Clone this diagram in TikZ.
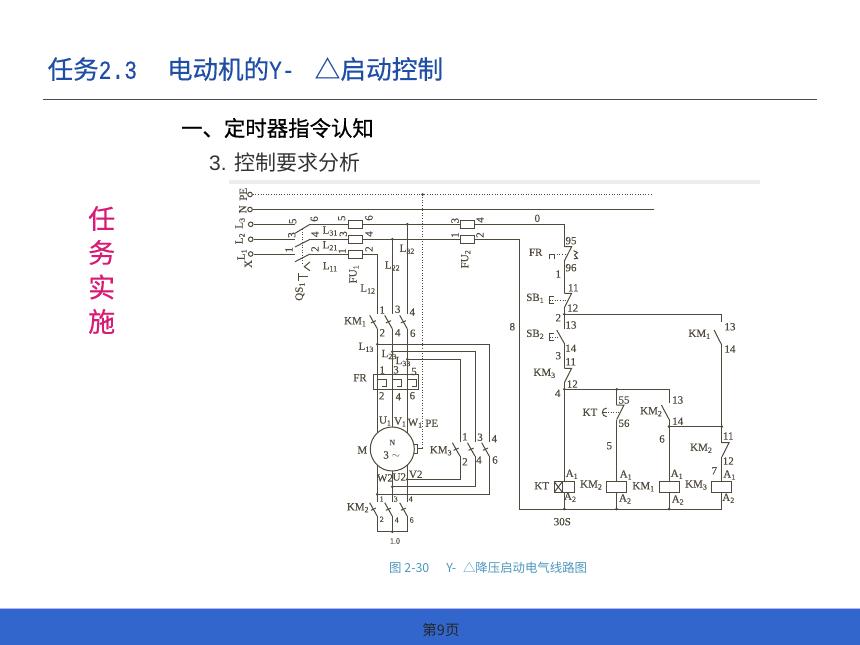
\documentclass[tikz,border=0pt]{standalone}
\usepackage{fontspec}
\setmainfont{Liberation Serif}
\newfontfamily\cjk{Noto Sans CJK SC}
\newfontfamily\cjkheavy[FakeBold=0.6]{Noto Sans CJK SC}
\newfontfamily\cjktitle[FakeBold=0.35]{Noto Sans CJK SC}
\newfontfamily\titlemono[FakeStretch=0.82,FakeBold=0.35]{Liberation Mono}
\newfontfamily\arial{Liberation Sans}
\newfontfamily\lblfont[FakeBold=0.2]{Liberation Serif}
\usetikzlibrary{
  positioning,
  calc
}
\definecolor{wire}{HTML}{4F4A3C}
\definecolor{titleblue}{HTML}{1F4EA6}
\definecolor{taskpink}{HTML}{D81B74}
\definecolor{barblue}{HTML}{3366CC}
\definecolor{capblue}{HTML}{4C97BC}
\tikzstyle{line}=[wire, line width=1pt]
\tikzstyle{auxline}=[wire, line width=0.8pt, dash pattern=on 1pt off 1.6pt]
\tikzstyle{lbl}=[wire, inner sep=0pt, font=\fontsize{11}{12}\selectfont\lblfont]
\tikzstyle{lblsmall}=[wire, inner sep=0pt, font=\fontsize{8}{9}\selectfont\lblfont]
\tikzstyle{lblrot}=[lbl, rotate=90]
\tikzstyle{term}=[line, circle, draw, fill=white, inner sep=0pt, minimum size=4.6pt]
\tikzstyle{fuse}=[line, draw, fill=white, inner sep=0pt, minimum width=14.5pt, minimum height=7.4pt]
\tikzstyle{coil}=[line, draw, fill=white, inner sep=0pt, minimum width=20pt, minimum height=10.6pt]
% 下付き
\newcommand{\subn}[1]{\raisebox{-2pt}{\fontsize{8}{9}\selectfont #1}}
% 常开触点と常闭触点
\newcommand{\noblade}[2]{%
    \draw[line] ({#1-7.6},{#2+1}) -- (#1,{#2+14.5});
    \draw[line] ({#1-6.4},{#2+8.6}) -- ({#1-1.4},{#2+6.4});
}
\newcommand{\ncblade}[2]{%
    \draw[line] (#1,#2) -- ({#1+7.3},#2) -- (#1,{#2+14.5});
}

\begin{document}
\begin{tikzpicture}[x=1pt,y=-1pt]
    \useasboundingbox (0,0) rectangle (860,645);
    \def\xa{377.3}
    \def\xb{392.3}
    \def\xc{407.3}
    \def\xd{564.3}
    \def\xe{616.7}
    \def\xf{669}
    \def\xg{721.7}

    % 标题
    \node[anchor=west, inner sep=0pt, titleblue, font=\fontsize{25.5}{27}\selectfont] (title) at (47.5,69)
        {\cjktitle 任务\titlemono\fontsize{26}{27}\selectfont 2.3\cjktitle\hspace{30pt}\fontsize{25.5}{27}\selectfont 电动机的\titlemono\fontsize{26}{27}\selectfont Y-\cjktitle\hspace{20pt}\fontsize{25.7}{27}\selectfont △启动控制};
    \draw[black!70, line width=1pt] (43,99) coordinate (ruleL) -- (817,99) coordinate (ruleR);
    \node[anchor=west, inner sep=0pt, black, font=\fontsize{21.4}{24}\selectfont\cjkheavy] (sec) at (181,128) {一、定时器指令认知};
    \node[anchor=west, inner sep=0pt, black!80, font=\fontsize{21}{24}\selectfont] (sub) at (209,163) {\arial 3. \cjk 控制要求分析};

    % 任务实施
    \foreach \yy/\ch [count=\i] in {218.5/任,252.5/务,287/实,321.5/施}
        \node[taskpink, inner sep=0pt, font=\fontsize{27}{27}\selectfont\cjktitle] (task\i) at (101.7,\yy) {\ch};

    % 图の上の帯
    \fill[black!7] (229,180) rectangle (760,183.5);

    % 电源端子
    \node[term] (TPE) at (250,194.5) {};
    \node[term] (TN) at (250,209.5) {};
    \node[term] (TC) at (250.7,224.3) {};
    \node[term] (TB) at (250.7,239.3) {};
    \node[term] (TA) at (250.7,254) {};

    % 开关の端点
    \foreach \nm/\yy in {A/254,B/239.3,C/224.3} {
        \coordinate (Ql\nm) at (295,\yy);
        \coordinate (Qr\nm) at (310,\yy);
    }

    % 电源线
    \draw[auxline] (TPE) -- (652,194.5) coordinate (PEend);
    \draw[line] (TN) -- (654,209.5) coordinate (Nend);
    \draw[line] (TA) -- (QlA);
    \draw[line] (TB) -- (QlB);
    \draw[line] (TC) -- (QlC);
    \coordinate (dL2) at (\xb,239.3);
    \coordinate (dL3) at (\xc,224.3);
    \coordinate (topD) at (\xd,224.3);
    \coordinate (cornerB) at (519,239.3);
    \coordinate (cornerBb) at (519,509);
    \coordinate (busEnd) at (\xg,509);
    \draw[line] (QrA) -- (\xa,254) -- (\xa,314.3);
    \draw[line] (QrB) -- (cornerB) -- (cornerBb) -- (busEnd);
    \draw[line] (QrC) -- (topD) -- (\xd,246.7);
    \draw[line] (dL2) -- (\xb,314.3);
    \draw[line] (dL3) -- (\xc,314.3);

    % 隔离开关QS
    \draw[line] (295,261.7) -- (QrA);
    \draw[line] (295,247) -- (QrB);
    \draw[line] (295,233.3) -- (QrC);
    \draw[auxline] (302.7,229) -- (302.7,263);
    \draw[line] (310,262) -- (304.3,266.7) -- (310,270.7);
    \draw[line] (298,276.7) -- (308,276.7);
    \draw[line] (298,273) -- (298,280.5);

    % 熔断器
    \node[fuse] (FUa) at (355.5,254.3) {};
    \node[fuse] (FUb) at (355.5,239.3) {};
    \node[fuse] (FUc) at (355.5,224.3) {};
    \node[fuse] (FUd) at (467.5,224.3) {};
    \node[fuse] (FUe) at (467.5,239.3) {};

    % KM1主触点
    \foreach \xx in {\xa,\xb,\xc}
        \noblade{\xx}{314.3};

    % 主回路
    \coordinate (dL13) at (\xa,344.3);
    \coordinate (dL23) at (\xb,351.7);
    \coordinate (dL33) at (\xc,359.3);
    \coordinate (dW2) at (\xa,494.3);
    \coordinate (dU2) at (\xb,486.7);
    \coordinate (dV2) at (\xc,479.3);
    \draw[line] (\xa,328.8) -- (\xa,501.7);
    \draw[line] (\xb,328.8) -- (\xb,501.7);
    \draw[line] (\xc,328.8) -- (\xc,501.7);
    \draw[line] (dL13) -- (489.3,344.3) -- (489.3,441.7);
    \draw[line] (dL23) -- (475,351.7) -- (475,441.7);
    \draw[line] (dL33) -- (460,359.3) -- (460,441.7);
    \draw[line] (489.3,456.2) -- (489.3,494.3) -- (dW2);
    \draw[line] (475,456.2) -- (475,486.7) -- (dU2);
    \draw[line] (460,456.2) -- (460,479.3) -- (dV2);
    \foreach \xx in {460,475,489.3}
        \noblade{\xx}{441.7};

    % 热继电器
    \node[line, draw, fill=white, inner sep=0pt, minimum width=45pt, minimum height=14.5pt] (FRbox) at (395.8,382.2) {};
    \foreach \xx in {\xa,\xb,\xc} {
        \draw[line] (\xx,375) -- (\xx,389.5);
        \draw[line] (\xx,379) -- ({\xx+9},379) -- ({\xx+9},386) -- ({\xx+4.5},386);
    }

    % 电动机
    \node[line, circle, draw, fill=white, inner sep=0pt, minimum size=44pt] (motor) at (392.3,449) {};
    \coordinate (dPE) at (422.7,194.5);
    \draw[auxline] (dPE) -- (422.7,448);
    \draw[line] (422.7,448) -- (417.3,448);
    \draw[line] (414,444.5) -- (417.3,444.5) -- (417.3,453) -- (414,453);

    % KM2星形触点
    \foreach \xx in {\xa,\xb,\xc}
        \noblade{\xx}{501.7};
    \coordinate (dL0) at (\xb,531.7);
    \draw[line] (\xa,516.2) -- (\xa,531.7) -- (\xc,531.7) -- (\xc,516.2);
    \draw[line] (\xb,516.2) -- (dL0);

    % 控制回路
    \ncblade{\xd}{246.7}
    \draw[line] (\xd,261.2) -- (\xd,293.3);
    \ncblade{\xd}{293.3}
    \coordinate (dTwo) at (\xd,314.3);
    \draw[line] (\xd,307.8) -- (\xd,329);
    \draw[line] (\xd-7.6,330) -- (\xd,343.3);
    \draw[line] (\xd,343.3) -- (\xd,368.3);
    \ncblade{\xd}{368.3}
    \coordinate (dFour) at (\xd,389.3);
    \draw[line] (\xd,382.8) -- (\xd,509);

    % 自锁
    \draw[line] (dTwo) -- (\xg,314.3) -- (\xg,321.7);
    \draw[line] (\xg-7.6,330) -- (\xg,345);
    \draw[line] (\xg,345) -- (\xg,442.7);
    \ncblade{\xg}{442.7}
    \draw[line] (\xg,457.2) -- (\xg,509);

    % KT和KM2
    \coordinate (dKT) at (\xe,389.3);
    \coordinate (dSix) at (\xf,426.7);
    \coordinate (dEl) at (\xg,426.7);
    \draw[line] (dFour) -- (\xf,389.3) -- (\xf,403.3);
    \draw[line] (dKT) -- (\xe,405);
    \ncblade{\xe}{405}
    \draw[line] (\xe,419.5) -- (\xe,509);
    \draw[line] (\xf-7.6,405) -- (\xf,419.3);
    \draw[line] (\xf,419.3) -- (\xf,509);
    \draw[line] (dSix) -- (dEl);

    % 联动符号
    \draw[line] (549.3,259.3) -- (549.3,254) -- (554,254) -- (554,259.3);
    \draw[auxline] (556.7,254) -- (566,254);
    \draw[line] (573.5,250.7) -- (577.5,252.5) -- (574.5,255) -- (577.5,258.3) -- (574,258.8);
    \draw[line] (553.5,296.7) -- (549.5,296.7) -- (549.5,303.3) -- (553.5,303.3);
    \draw[auxline] (549.5,300) -- (567.5,300);
    \draw[line] (553.5,333.5) -- (549.5,333.5) -- (549.5,340.7) -- (553.5,340.7);
    \draw[auxline] (549.5,337) -- (559,337);
    \draw[line] (606.7,408) .. controls (601,408) and (601,416.7) .. (606.7,416.7);
    \draw[line] (602.5,412.3) -- (606.7,412.3);
    \draw[auxline] (608,412.3) -- (619,412.3);

    % 线圈
    \node[coil] (coilKT) at (\xd,487) {};
    \node[coil] (coilTwo) at (\xe,487) {};
    \node[coil] (coilOne) at (\xf,487) {};
    \node[coil] (coilThree) at (\xg,487) {};
    \draw[line] (554.3,481.7) rectangle (562.3,492.3);
    \draw[line] (554.3,481.7) -- (562.3,492.3);
    \draw[line] (554.3,492.3) -- (562.3,481.7);

    % 节点
    \foreach \pt in {dL2,dL3,dL13,dL23,dL33,dW2,dU2,dV2,dL0,dTwo,dFour,dKT,dSix,dEl,dPE}
        \fill[wire] (\pt) circle (1.5pt);
    \foreach \xx in {\xd,\xe,\xf}
        \fill[wire] (\xx,509) circle (1.5pt);

    % 竖排标注
    \foreach \px/\py/\txt [count=\i] in {
        243.3/194.3/PE, 242.7/209.3/N, 240/223.3/L\subn{3}, 240/238.7/L\subn{2},
        242/254.7/L\subn{1}, 248.3/264/X, 292.7/221.3/5, 291.7/235/3, 289/249.7/1,
        314.3/219/6, 315/234.3/4, 315/249/2, 300/291.7/QS\subn{1},
        341.7/218.3/5, 369/218/6, 343.3/234/3, 369/234/4, 342.3/251/1, 369/249/2,
        354/274.3/FU\subn{1}, 455/220.7/3, 480/220/4, 455/235/1, 480/235/2,
        465.7/259.3/FU\subn{2}}
        \node[lblrot] (rot\i) at (\px,\py) {\txt};

    % 主回路の标注
    \foreach \px/\py/\txt [count=\i] in {
        330/231/L\subn{31}, 330/245.7/L\subn{21}, 330/266.7/L\subn{11},
        367.7/289/L\subn{12}, 392.3/266/L\subn{22}, 407/249.3/L\subn{32},
        355/321.7/KM\subn{1}, 382.3/310/1, 397.7/309.3/3, 412.3/312/4,
        382.3/332.7/2, 397.7/332.7/4, 412.7/333.3/6,
        366/347.3/L\subn{13}, 389/354.5/L\subn{23}, 403/361.5/L\subn{33},
        382.3/370/1, 396/369.8/3, 414/371.5/5, 360/377.7/FR,
        381.7/395.7/2, 398.3/396.7/4, 412.3/395.7/6,
        385/421/U\subn{1}, 400/422/V\subn{1}, 415/423.3/W\subn{1}, 431.7/423.3/PE,
        362.3/450/M, 391.7/455/3 $\sim$,
        385/478/W2, 399.3/477/U2, 415.7/474.3/V2,
        440.7/450.7/KM\subn{3}, 465/436.7/1, 480/437.3/3, 494.3/438.7/4,
        465/461.7/2, 479/460/4, 495/460/6, 357.7/507.7/KM\subn{2}}
        \node[lbl] (main\i) at (\px,\py) {\txt};
    \foreach \px/\py/\txt [count=\i] in {
        392.3/442.5/N, 381.7/499/1, 395.7/499/3, 410.7/499/4,
        381.7/519.3/2, 396.7/520/4, 411.7/520/6, 395/541/1.0}
        \node[lblsmall] (small\i) at (\px,\py) {\txt};

    % 控制回路の标注
    \foreach \px/\py/\txt [count=\i] in {
        537.3/218.3/0, 571/240.7/95, 535.7/252.3/FR, 571/267.7/96, 558.3/274/1, 573.3/287.7/11,
        535/298.3/SB\subn{1}, 572.7/308/12, 558.3/317.7/2, 571/325/13,
        535/334.3/SB\subn{2}, 570.7/348.3/14, 558.3/355.7/3, 570.7/361.7/11, 512.3/326.7/8,
        699.3/334.3/KM\subn{1}, 730/326.7/13, 730/349/14,
        544.3/373.3/KM\subn{3}, 572.3/384/12, 557.7/393.3/4, 624/400/55, 590/412.3/KT,
        624/423.3/56, 609.3/445.7/5, 651/411.7/KM\subn{2}, 677.7/400/13, 677.7/421.3/14,
        662/439/6, 728.3/436/11, 701/448.3/KM\subn{2}, 728.3/461/12, 714.3/470.7/7,
        571.7/474.3/A\subn{1}, 625.7/475/A\subn{1}, 676.7/474.3/A\subn{1}, 729.3/475/A\subn{1},
        570/497.3/A\subn{2}, 625/499/A\subn{2}, 677.7/500/A\subn{2}, 728.3/498.3/A\subn{2},
        541.7/485.7/KT, 591/485/KM\subn{2}, 643.3/486.7/KM\subn{1}, 696/485/KM\subn{3},
        562.3/521.7/30S}
        \node[lbl] (ctrl\i) at (\px,\py) {\txt};

    % 图题
    \node[anchor=west, inner sep=0pt, capblue, font=\fontsize{12.4}{14}\selectfont\cjk] (cap) at (389,568)
        {图 2-30\hspace{17pt}Y-\hspace{4pt} △降压启动电气线路图};

    % 页脚
    \fill[barblue] (0,608.5) rectangle (860,645);
    \draw[blue!30!white, line width=1pt] (0,608.3) coordinate (barL) -- (860,608.3) coordinate (barR);
    \node[inner sep=0pt, black!85, font=\fontsize{14.5}{16}\selectfont\cjk] (page) at (441,630) {第9页};
\end{tikzpicture}
\end{document}
